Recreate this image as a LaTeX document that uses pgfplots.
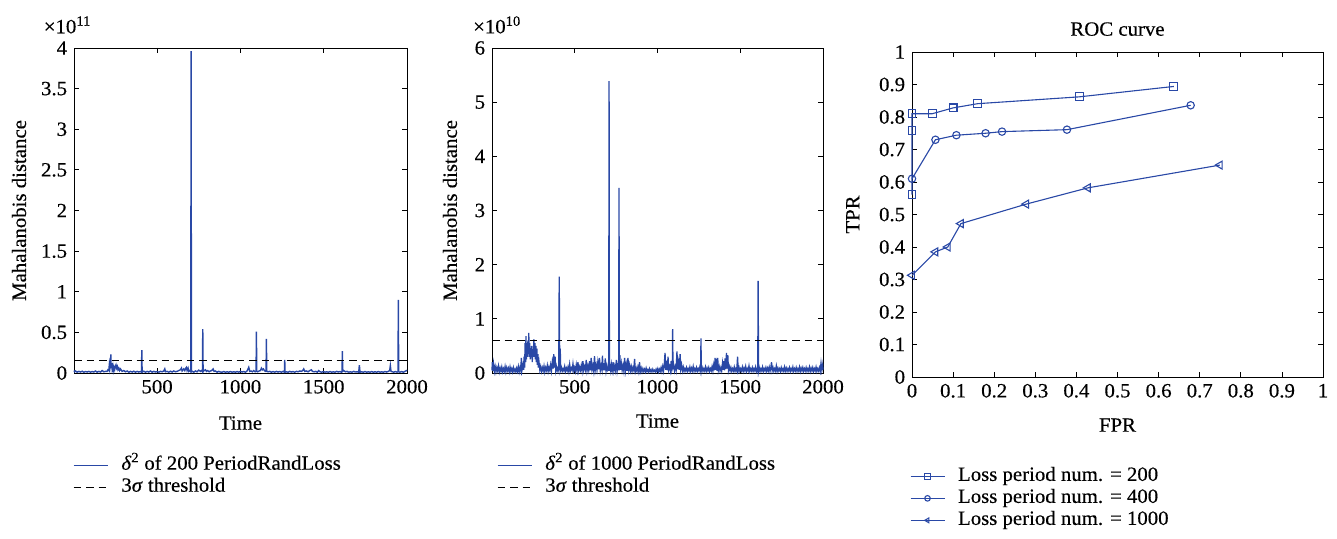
\documentclass[border=0pt]{standalone}
\usepackage{fontspec}
\setmainfont{Liberation Serif}[FakeStretch=1.03, FakeBold=0.35]
\usepackage{pgfplots}
\pgfplotsset{compat=1.18}
\definecolor{mblue}{RGB}{41,72,166}
\pgfplotsset{
  mystyle/.style={
    scale only axis,
    tick align=inside,
    tick pos=both,
    major tick length=5pt,
    every tick/.append style={black, line width=0.8pt},
    axis line style={line width=0.9pt},
    /pgf/number format/assume math mode=true,
    /pgf/number format/1000 sep={},
    scaled ticks=false,
    tick label style={font=\fontsize{20.2}{24}\selectfont},
    label style={font=\fontsize{20.2}{24}\selectfont},
    title style={font=\fontsize{20.2}{24}\selectfont},
    legend cell align=left,
    clip=false,
  },
  mylegend/.style={
    legend style={draw=none, fill=none, inner sep=0pt, outer sep=0pt,
      anchor=north west, row sep=4pt, column sep=13pt,
      font=\fontsize{20.2}{24}\selectfont,
      nodes={inner sep=0pt, text height=13.5pt, text depth=4.5pt}},
  },
  lineleg/.style={legend image code/.code={\draw[##1] (0pt,0pt) -- (34pt,0pt);}},
  markleg/.style={legend image code/.code={\draw[##1, mark repeat=2, mark phase=2, mark size=2.8pt] plot coordinates {(0pt,0pt) (17pt,0pt) (34pt,0pt)};}},
}
\begin{document}
\fontsize{20.2}{24}\selectfont
\begin{tikzpicture}[x=1pt,y=1pt]
\useasboundingbox (0,0) rectangle (1337,538);

% ---------------- Plot 1 ----------------
\begin{axis}[mystyle, mylegend, lineleg,
  at={(74pt,165pt)}, anchor=south west,
  width=333pt, height=325pt,
  xmin=1, xmax=2000, ymin=0, ymax=4,
  xtick={500,1000,1500,2000},
  ytick={0,0.5,1,1.5,2,2.5,3,3.5,4},
  xlabel={Time}, ylabel={Mahalanobis distance},
  xlabel style={at={(axis description cs:0.5,-0.154)}, anchor=center},
  ylabel style={at={(axis description cs:-0.165,0.5)}, anchor=center, rotate=0},
  legend style={at={(axis description cs:-0.003,-0.256)}},
]
\addplot[mblue, line width=1.4pt] coordinates {
(1,0.03)(5,0.015)(10,0.025)(20,0.01)(30,0.02)(40,0.012)(50,0.022)(60,0.01)(70,0.018)(80,0.012)(90,0.02)(100,0.01)(110,0.018)(120,0.012)(130,0.025)(140,0.01)(150,0.02)(160,0.012)(170,0.03)(180,0.015)(190,0.02)(200,0.02)(205,0.04)(210,0.03)(213,0.1)(216,0.05)(219,0.1)(222,0.23)(224,0.06)(227,0.12)(230,0.05)(234,0.09)(237,0.03)(241,0.07)(245,0.04)(249,0.08)(253,0.1)(257,0.06)(261,0.08)(265,0.04)(270,0.06)(275,0.03)(280,0.05)(290,0.02)(300,0.03)(310,0.015)(320,0.025)(330,0.01)(340,0.02)(350,0.012)(360,0.022)(370,0.01)(380,0.02)(390,0.012)(400,0.018)(406,0.01)(408,0.28)(410,0.01)(420,0.022)(430,0.01)(440,0.02)(450,0.012)(460,0.025)(470,0.01)(480,0.02)(490,0.012)(500,0.018)(510,0.01)(520,0.02)(530,0.015)(540,0.025)(546,0.05)(550,0.015)(560,0.02)(570,0.01)(580,0.022)(590,0.012)(600,0.025)(610,0.015)(620,0.02)(630,0.03)(640,0.04)(646,0.06)(650,0.025)(660,0.05)(666,0.03)(672,0.06)(676,0.07)(680,0.03)(686,0.06)(690,0.02)(696,0.03)(702,0.015)(704,3.96)(706,0.015)(712,0.02)(720,0.01)(730,0.025)(740,0.015)(750,0.035)(760,0.02)(766,0.03)(772,0.015)(774,0.54)(776,0.015)(782,0.03)(790,0.04)(796,0.02)(804,0.03)(812,0.015)(820,0.025)(828,0.03)(836,0.05)(842,0.02)(850,0.025)(860,0.01)(870,0.02)(880,0.012)(890,0.01)(900,0.018)(910,0.01)(920,0.015)(930,0.01)(940,0.018)(950,0.01)(960,0.015)(970,0.01)(980,0.018)(990,0.01)(1000,0.02)(1010,0.012)(1020,0.018)(1030,0.01)(1040,0.025)(1050,0.07)(1056,0.02)(1064,0.025)(1072,0.015)(1080,0.03)(1088,0.015)(1094,0.02)(1096,0.51)(1098,0.02)(1104,0.015)(1112,0.025)(1120,0.03)(1126,0.06)(1132,0.04)(1138,0.05)(1144,0.03)(1150,0.02)(1154,0.025)(1156,0.42)(1158,0.02)(1166,0.015)(1176,0.02)(1186,0.01)(1196,0.018)(1206,0.01)(1216,0.02)(1226,0.012)(1236,0.018)(1246,0.01)(1256,0.02)(1264,0.01)(1266,0.16)(1268,0.01)(1276,0.015)(1286,0.01)(1296,0.02)(1306,0.012)(1316,0.018)(1326,0.01)(1336,0.02)(1346,0.015)(1356,0.025)(1366,0.02)(1374,0.03)(1380,0.05)(1386,0.02)(1396,0.025)(1406,0.015)(1416,0.03)(1426,0.04)(1432,0.02)(1442,0.015)(1452,0.02)(1462,0.01)(1470,0.03)(1478,0.015)(1488,0.01)(1498,0.018)(1508,0.01)(1518,0.015)(1528,0.01)(1538,0.018)(1548,0.01)(1558,0.015)(1568,0.01)(1578,0.02)(1588,0.012)(1598,0.018)(1606,0.01)(1610,0.02)(1612,0.27)(1614,0.02)(1620,0.03)(1630,0.015)(1640,0.02)(1650,0.01)(1660,0.015)(1670,0.01)(1680,0.02)(1690,0.012)(1700,0.015)(1710,0.01)(1714,0.095)(1718,0.01)(1728,0.015)(1738,0.01)(1748,0.018)(1758,0.01)(1768,0.015)(1778,0.01)(1788,0.018)(1798,0.01)(1808,0.015)(1818,0.01)(1828,0.018)(1838,0.01)(1848,0.015)(1858,0.01)(1868,0.018)(1878,0.012)(1888,0.02)(1896,0.03)(1900,0.09)(1904,0.02)(1912,0.015)(1920,0.01)(1930,0.018)(1940,0.01)(1946,0.015)(1948,0.90)(1950,0.015)(1958,0.01)(1968,0.018)(1978,0.01)(1988,0.02)(1996,0.03)(2000,0.025)
};
\addlegendentry{\textit{δ}\textsuperscript{2} of 200 PeriodRandLoss}
\addplot[black, line width=1.2pt, dash pattern=on 7.5pt off 5pt] coordinates {(1,0.15)(2000,0.15)};
\addlegendentry{3\textit{σ} threshold}
\node[anchor=center] at (axis description cs:-0.02,1.071) {×10\textsuperscript{11}};
\end{axis}

% ---------------- Plot 2 ----------------
\begin{axis}[mystyle, mylegend, lineleg,
  at={(492pt,165pt)}, anchor=south west,
  width=331pt, height=325pt,
  xmin=1, xmax=2000, ymin=0, ymax=6,
  xtick={500,1000,1500,2000},
  ytick={0,1,2,3,4,5,6},
  xlabel={Time}, ylabel={Mahalanobis distance},
  xlabel style={at={(axis description cs:0.5,-0.148)}, anchor=center},
  ylabel style={at={(axis description cs:-0.127,0.5)}, anchor=center, rotate=0},
  legend style={at={(axis description cs:0.015,-0.256)}},
]
\addplot[mblue, line width=1.3pt] coordinates {
(1,0.05)(3,0.2)(6,0.04)(10,0.17)(15,0.03)(20,0.12)(25,0.02)(30,0.1)(35,0.04)(40,0.13)(45,0.02)(50,0.09)(55,0.03)(60,0.11)(65,0.02)(70,0.08)(75,0.03)(80,0.12)(85,0.02)(90,0.1)(95,0.04)(100,0.09)(105,0.02)(110,0.11)(115,0.03)(120,0.08)(125,0.02)(130,0.1)(135,0.03)(140,0.07)(145,0.02)(150,0.09)(155,0.03)(160,0.12)(165,0.02)(170,0.1)(175,0.04)(178,0.28)(182,0.05)(188,0.15)(192,0.06)
(195,0.3)(198,0.1)(201,0.55)(204,0.2)(206,0.68)(209,0.25)(212,0.5)(215,0.3)(218,0.6)(221,0.35)(223,0.74)(226,0.3)(229,0.55)(232,0.25)(235,0.45)(238,0.3)(241,0.5)(244,0.2)(247,0.4)(250,0.3)(254,0.62)(257,0.3)(260,0.55)(263,0.25)(266,0.5)(269,0.2)(272,0.45)(275,0.15)(278,0.35)(281,0.1)(285,0.2)(290,0.05)
(295,0.12)(300,0.03)(305,0.1)(310,0.04)(315,0.13)(320,0.02)(325,0.1)(330,0.05)(335,0.14)(340,0.03)(345,0.11)(350,0.05)(355,0.15)(360,0.04)(365,0.2)(370,0.08)(374,0.35)(378,0.1)(382,0.3)(386,0.05)(390,0.12)(395,0.04)(400,0.1)(404,0.05)(407,1.78)(410,0.05)(413,0.45)(416,0.06)
(420,0.1)(425,0.03)(430,0.08)(435,0.04)(440,0.12)(445,0.03)(450,0.09)(455,0.04)(460,0.11)(465,0.03)(470,0.16)(475,0.04)(480,0.09)(485,0.05)(490,0.17)(495,0.04)(500,0.1)(505,0.03)(510,0.15)(515,0.05)(520,0.2)(525,0.04)(530,0.11)(535,0.05)(540,0.14)(545,0.04)(550,0.22)(555,0.05)(560,0.12)(565,0.06)(570,0.24)(575,0.04)(580,0.13)(585,0.05)(590,0.22)(595,0.05)(600,0.28)(605,0.06)(610,0.14)(615,0.04)(620,0.31)(625,0.06)(630,0.15)(635,0.05)(640,0.2)(645,0.07)(650,0.28)(655,0.05)(660,0.14)(665,0.06)(668,0.32)(672,0.05)(676,0.18)(680,0.05)(685,0.27)(690,0.04)(695,0.14)(700,0.06)(704,0.1)(706,0.04)(708,5.39)(710,0.04)(714,0.12)(718,0.04)(722,0.16)(727,0.05)(732,0.2)(737,0.04)(742,0.13)(747,0.05)(752,0.24)(757,0.04)(762,0.14)(766,0.05)(768,3.42)(770,0.05)(773,0.33)(777,0.06)(782,0.18)(787,0.05)(792,0.14)(797,0.04)(802,0.28)(807,0.05)(812,0.16)(817,0.04)(822,0.28)(827,0.06)(832,0.15)(837,0.04)(842,0.12)(847,0.03)(852,0.1)(857,0.05)(862,0.26)(867,0.03)(872,0.09)(877,0.03)(882,0.11)(887,0.03)(892,0.2)(897,0.03)(902,0.09)(907,0.02)(912,0.08)(917,0.03)(922,0.07)(927,0.02)(932,0.09)(937,0.03)(942,0.06)(947,0.02)(952,0.08)(957,0.03)(962,0.06)(967,0.02)(972,0.07)(977,0.03)(982,0.05)(987,0.02)(992,0.07)(997,0.03)
(1002,0.08)(1007,0.02)(1012,0.07)(1017,0.03)(1022,0.1)(1027,0.03)(1032,0.12)(1037,0.04)(1042,0.18)(1046,0.37)(1050,0.06)(1055,0.16)(1060,0.05)(1064,0.3)(1068,0.06)(1073,0.12)(1078,0.04)(1083,0.22)(1087,0.05)(1090,0.09)(1092,0.81)(1094,0.07)(1098,0.15)(1103,0.04)(1108,0.12)(1113,0.05)(1118,0.4)(1122,0.07)(1127,0.2)(1132,0.06)(1137,0.35)(1141,0.07)(1146,0.15)(1151,0.04)(1156,0.11)(1161,0.03)(1166,0.08)(1171,0.04)(1176,0.1)(1181,0.03)(1186,0.08)(1191,0.04)(1196,0.11)(1201,0.03)(1206,0.09)(1211,0.04)(1216,0.12)(1221,0.03)(1226,0.08)(1231,0.04)(1236,0.1)(1241,0.03)(1246,0.08)(1251,0.04)(1256,0.11)(1261,0.04)(1263,0.64)(1265,0.04)(1270,0.1)(1275,0.03)(1280,0.08)(1285,0.04)(1290,0.11)(1295,0.03)
(1300,0.09)(1305,0.04)(1310,0.1)(1315,0.03)(1320,0.08)(1325,0.04)(1330,0.12)(1335,0.04)(1340,0.15)(1345,0.05)(1348,0.28)(1352,0.06)(1356,0.17)(1360,0.04)(1364,0.28)(1368,0.05)(1373,0.12)(1378,0.04)(1383,0.1)(1388,0.04)(1393,0.18)(1397,0.06)(1401,0.22)(1405,0.05)(1409,0.27)(1413,0.07)(1417,0.37)(1421,0.08)(1425,0.33)(1429,0.05)(1434,0.12)(1439,0.04)(1444,0.1)(1449,0.03)(1454,0.08)(1459,0.04)(1464,0.11)(1469,0.03)(1474,0.08)(1479,0.04)(1484,0.3)(1488,0.04)(1493,0.1)(1498,0.03)(1503,0.08)(1508,0.04)(1513,0.11)(1518,0.03)(1523,0.09)(1528,0.04)(1533,0.12)(1538,0.03)(1543,0.08)(1548,0.04)(1553,0.13)(1558,0.03)(1563,0.08)(1568,0.04)(1573,0.1)(1578,0.03)(1583,0.08)(1588,0.04)(1593,0.11)(1598,0.03)(1603,0.08)(1606,0.04)(1608,1.70)(1611,0.04)
(1615,0.1)(1620,0.03)(1625,0.08)(1630,0.04)(1635,0.11)(1640,0.03)(1645,0.08)(1650,0.04)(1655,0.1)(1660,0.03)(1665,0.09)(1670,0.04)(1675,0.11)(1680,0.03)(1685,0.1)(1689,0.2)(1693,0.04)(1698,0.1)(1703,0.03)(1708,0.08)(1713,0.04)(1718,0.13)(1723,0.03)(1728,0.09)(1733,0.04)(1738,0.08)(1743,0.03)(1748,0.1)(1753,0.04)(1758,0.08)(1763,0.03)(1768,0.11)(1773,0.04)(1778,0.09)(1783,0.03)(1788,0.08)(1793,0.04)(1798,0.1)(1803,0.03)(1808,0.08)(1813,0.04)(1818,0.11)(1823,0.03)(1828,0.08)(1833,0.04)(1838,0.1)(1843,0.03)(1848,0.08)(1853,0.04)(1858,0.11)(1863,0.03)(1868,0.09)(1873,0.04)(1878,0.1)(1883,0.03)(1888,0.08)(1893,0.04)(1898,0.1)(1903,0.03)(1908,0.08)(1913,0.04)(1918,0.11)(1923,0.03)(1928,0.09)(1933,0.04)(1938,0.1)(1943,0.03)(1948,0.08)(1953,0.04)(1958,0.11)(1963,0.03)(1968,0.08)(1973,0.04)(1978,0.1)(1983,0.03)(1988,0.18)(1993,0.05)(1998,0.15)(2000,0.06)
};
\addlegendentry{\textit{δ}\textsuperscript{2} of 1000 PeriodRandLoss}
\addplot[black, line width=1.2pt, dash pattern=on 7.5pt off 5pt] coordinates {(1,0.6)(2000,0.6)};
\addlegendentry{3\textit{σ} threshold}
\node[anchor=center] at (axis description cs:0.015,1.071) {×10\textsuperscript{10}};
\end{axis}

% ---------------- Plot 3 ----------------
\begin{axis}[mystyle, mylegend, markleg,
  at={(912pt,161pt)}, anchor=south west,
  width=411pt, height=325pt,
  xmin=0, xmax=1, ymin=0, ymax=1,
  xtick={0,0.1,0.2,0.3,0.4,0.5,0.6,0.7,0.8,0.9,1},
  ytick={0,0.1,0.2,0.3,0.4,0.5,0.6,0.7,0.8,0.9,1},
  xlabel={FPR}, ylabel={TPR},
  title={ROC curve},
  title style={at={(axis description cs:0.5,1.052)}, anchor=center},
  xlabel style={at={(axis description cs:0.5,-0.148)}, anchor=center},
  ylabel style={at={(axis description cs:-0.144,0.5)}, anchor=center, rotate=0},
  legend style={at={(axis description cs:-0.005,-0.278)}},
]
\addplot[mblue, line width=1.1pt, mark=square, mark size=3.9pt, mark options={solid, line width=1.1pt}] coordinates {
(0.637,0.894)(0.407,0.862)(0.16,0.841)(0.1,0.828)(0.049,0.81)(0,0.81)(0,0.759)(0,0.561)
};
\addlegendentry{Loss period num. = 200}
\addplot[mblue, line width=1.1pt, mark=o, mark size=3.7pt, mark options={solid, line width=1.1pt}] coordinates {
(0,0.61)(0.057,0.73)(0.108,0.744)(0.179,0.75)(0.219,0.755)(0.377,0.761)(0.678,0.836)
};
\addlegendentry{Loss period num. = 400}
\addplot[mblue, line width=1.1pt, mark=triangle, mark size=4.6pt, mark options={solid, line width=1.1pt, rotate=90}] coordinates {
(0,0.313)(0.057,0.385)(0.087,0.4)(0.119,0.472)(0.278,0.532)(0.428,0.582)(0.749,0.652)
};
\addlegendentry{Loss period num. = 1000}
\end{axis}
\end{tikzpicture}
\end{document}
